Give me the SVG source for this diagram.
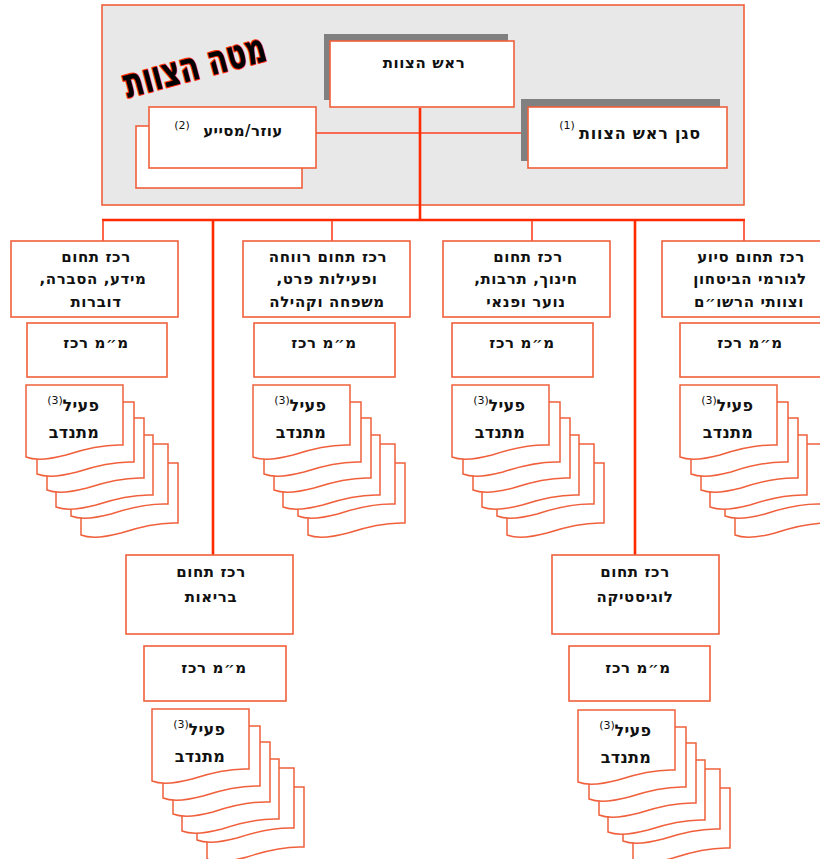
<svg xmlns="http://www.w3.org/2000/svg" xmlns:xlink="http://www.w3.org/1999/xlink" width="820" height="859" viewBox="0 0 820 859">
<style>
  .box { fill: #ffffff; stroke: #f0603c; stroke-width: 1.6; }
  .shadow { fill: #808080; }
  .t { font-family: "DejaVu Sans", "Liberation Sans", sans-serif; font-weight: bold; font-size: 15px; letter-spacing: 0.6px; fill: #111; text-anchor: middle; direction: rtl; }
  .d { font-size: 16px; letter-spacing: 0.3px; }
  .sup { font-family: "DejaVu Sans", "Liberation Sans", sans-serif; font-size: 11px; fill: #111; text-anchor: middle; }
  .bus { stroke: #ff2a00; stroke-width: 2.6; fill: none; }
  .drop { stroke: #ff4020; stroke-width: 1.6; fill: none; }
  .doc { fill: #ffffff; stroke: #f0603c; stroke-width: 1.5; }
  .title { font-family: "DejaVu Sans", "Liberation Sans", sans-serif; font-weight: bold; font-size: 41px; fill: #000; stroke: #ff3010; stroke-width: 2.2; paint-order: stroke fill; stroke-linejoin: round; text-anchor: middle; direction: rtl; }
</style>
<defs>
  <path id="docShape" d="M0,0 H97 V60 C75,59 55,65 40,70 C25,74 10,76 0,72 Z"/>
  <g id="stack">
    <use xlink:href="#docShape" class="doc" x="55" y="78"/>
    <use xlink:href="#docShape" class="doc" x="45" y="59"/>
    <use xlink:href="#docShape" class="doc" x="30" y="50"/>
    <use xlink:href="#docShape" class="doc" x="21" y="33"/>
    <use xlink:href="#docShape" class="doc" x="11" y="17"/>
    <use xlink:href="#docShape" class="doc" x="0" y="0"/>
    <text class="t d" x="55" y="26">פעיל</text>
    <text class="sup" x="29" y="19">(3)</text>
    <text class="t d" x="48" y="53">מתנדב</text>
  </g>
</defs>

<!-- staff container -->
<g id="staff">
  <rect x="102" y="5" width="642" height="200" fill="#e8e8e8" stroke="#f0603c" stroke-width="1.6"/>
  <text class="title" transform="translate(198,79) rotate(-15)" x="0" y="0" textLength="146" lengthAdjust="spacingAndGlyphs">מטה הצוות</text>
</g>

<!-- connectors -->
<g id="connectors">
  <line class="drop" x1="316" y1="133" x2="529" y2="133"/>
  <line class="bus" x1="420" y1="108" x2="420" y2="220"/>
  <line class="bus" x1="102" y1="220" x2="745" y2="220"/>
  <line class="drop" x1="103" y1="220" x2="103" y2="241"/>
  <line class="drop" x1="332" y1="220" x2="332" y2="241"/>
  <line class="drop" x1="532" y1="220" x2="532" y2="241"/>
  <line class="drop" x1="744" y1="220" x2="744" y2="241"/>
  <line class="bus" x1="213" y1="220" x2="213" y2="555"/>
  <line class="bus" x1="635" y1="220" x2="635" y2="555"/>
</g>

<g id="head">
  <rect class="shadow" x="324" y="34" width="184" height="66"/>
  <rect class="box" x="330" y="41" width="184" height="66"/>
  <text class="t" x="424" y="68">ראש הצוות</text>
</g>

<g id="deputy">
  <rect class="shadow" x="521" y="99" width="199" height="62"/>
  <rect class="box" x="528" y="107" width="199" height="61"/>
  <text class="t" x="640" y="139" style="font-size:16px;letter-spacing:0.8px">סגן ראש הצוות</text>
  <text class="sup" x="567" y="129">(1)</text>
</g>

<g id="assistant">
  <rect class="box" x="136" y="126" width="166" height="62"/>
  <rect class="box" x="149" y="107" width="167" height="61"/>
  <text class="t" x="243" y="136" style="letter-spacing:0.4px">עוזר/מסייע</text>
  <text class="sup" x="182" y="129">(2)</text>
</g>

<!-- column 1 -->
<g id="info">
  <rect class="box" x="11" y="241" width="167" height="76"/>
  <text class="t" x="96" y="262">רכז תחום</text>
  <text class="t" x="93" y="284">מידע, הסברה,</text>
  <text class="t" x="96" y="307">דוברות</text>
</g>
<g id="info-deputy">
  <rect class="box" x="27" y="323" width="140" height="54"/>
  <text class="t" x="96" y="348">מ״מ רכז</text>
</g>
<g id="info-volunteers">
  <use xlink:href="#stack" x="26" y="385"/>
</g>

<!-- column 2 -->
<g id="welfare">
  <rect class="box" x="243" y="241" width="167" height="76"/>
  <text class="t" x="328" y="262">רכז תחום רווחה</text>
  <text class="t" x="327" y="284">ופעילות פרט,</text>
  <text class="t" x="327" y="307">משפחה וקהילה</text>
</g>
<g id="welfare-deputy">
  <rect class="box" x="254" y="323" width="141" height="54"/>
  <text class="t" x="324" y="348">מ״מ רכז</text>
</g>
<g id="welfare-volunteers">
  <use xlink:href="#stack" x="253" y="385"/>
</g>

<!-- column 3 -->
<g id="education">
  <rect class="box" x="443" y="241" width="167" height="76"/>
  <text class="t" x="528" y="262">רכז תחום</text>
  <text class="t" x="526" y="284">חינוך, תרבות,</text>
  <text class="t" x="526" y="307">נוער ופנאי</text>
</g>
<g id="education-deputy">
  <rect class="box" x="452" y="323" width="141" height="54"/>
  <text class="t" x="522" y="348">מ״מ רכז</text>
</g>
<g id="education-volunteers">
  <use xlink:href="#stack" x="452" y="385"/>
</g>

<!-- column 4 -->
<g id="security">
  <rect class="box" x="662" y="241" width="170" height="76"/>
  <text class="t" x="751" y="262">רכז תחום סיוע</text>
  <text class="t" x="750" y="284">לגורמי הביטחון</text>
  <text class="t" x="749" y="307">וצוותי הרשו״ם</text>
</g>
<g id="security-deputy">
  <rect class="box" x="680" y="323" width="150" height="54"/>
  <text class="t" x="750" y="348">מ״מ רכז</text>
</g>
<g id="security-volunteers">
  <use xlink:href="#stack" x="680" y="385"/>
</g>

<!-- health -->
<g id="health">
  <rect class="box" x="126" y="555" width="167" height="79"/>
  <text class="t" x="211" y="577">רכז תחום</text>
  <text class="t" x="211" y="602">בריאות</text>
</g>
<g id="health-deputy">
  <rect class="box" x="144" y="646" width="142" height="55"/>
  <text class="t" x="214" y="673">מ״מ רכז</text>
</g>
<g id="health-volunteers">
  <use xlink:href="#stack" x="152" y="709"/>
</g>

<!-- logistics -->
<g id="logistics">
  <rect class="box" x="552" y="555" width="167" height="79"/>
  <text class="t" x="635" y="577">רכז תחום</text>
  <text class="t" x="635" y="602">לוגיסטיקה</text>
</g>
<g id="logistics-deputy">
  <rect class="box" x="569" y="646" width="141" height="55"/>
  <text class="t" x="638" y="673">מ״מ רכז</text>
</g>
<g id="logistics-volunteers">
  <use xlink:href="#stack" x="578" y="710"/>
</g>
</svg>
